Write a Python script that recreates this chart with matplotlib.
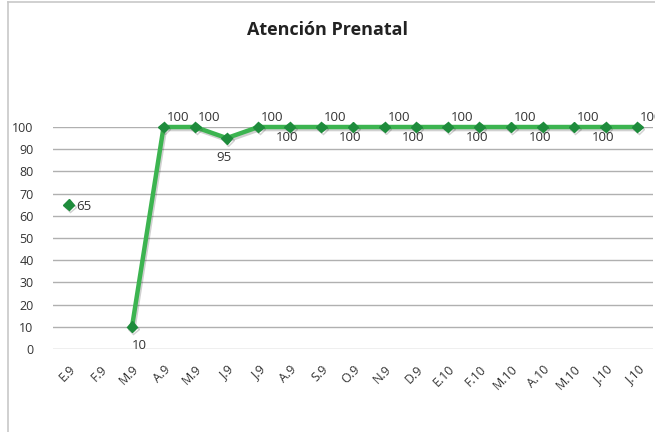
import matplotlib
matplotlib.use("Agg")
import matplotlib.pyplot as plt
import matplotlib.patheffects as pe
import numpy as np

months = ["E.9", "F.9", "M.9", "A.9", "M.9", "J.9", "J.9", "A.9", "S.9", "O.9",
          "N.9", "D.9", "E.10", "F.10", "M.10", "A.10", "M.10", "J.10", "J.10"]
values = [65, np.nan, 10, 100, 100, 95, 100, 100, 100, 100,
          100, 100, 100, 100, 100, 100, 100, 100, 100]
# label placement per point: a = above right, b = below, r = right
label_pos = ["r", "", "b", "a", "a", "b", "a", "b", "a", "b",
             "a", "b", "a", "b", "a", "b", "a", "b", "a"]

plt.rcParams["font.family"] = ["Open Sans", "DejaVu Sans"]

fig = plt.figure(figsize=(6.55, 4.32), dpi=100)
ax = fig.add_axes([0.081, 0.192, 0.916, 0.514])

x = np.arange(len(months))
shadow = [pe.SimpleLineShadow(offset=(1, -1.5), alpha=0.25, shadow_color="#444444"),
          pe.Normal()]
ax.plot(x, values, color="#3cb450", linewidth=3.2, marker="D", markersize=5.5,
        markerfacecolor="#1e8c3c", markeredgecolor="#1e8c3c",
        path_effects=shadow, zorder=3, clip_on=False)

for i, v in enumerate(values):
    if np.isnan(v):
        continue
    p = label_pos[i]
    if p == "a":
        ax.annotate(str(int(v)), (i, v), xytext=(2, 2), textcoords="offset points",
                    ha="left", va="bottom", fontsize=9.5, color="#333333")
    elif p == "b":
        dy = -3 if v == 100 else -9
        ax.annotate(str(int(v)), (i, v), xytext=(0 if v < 50 else -2, dy),
                    textcoords="offset points",
                    ha="left" if v < 50 else "center", va="top", fontsize=9.5,
                    color="#333333")
    else:
        ax.annotate(str(int(v)), (i, v), xytext=(5, -1), textcoords="offset points",
                    ha="left", va="center", fontsize=9.5, color="#333333")

ax.set_xlim(-0.5, len(months) - 0.5)
ax.set_ylim(0, 100)
ax.set_yticks(range(0, 101, 10))
ax.set_xticks(x)
ax.set_xticklabels(months, rotation=45, ha="right", rotation_mode="anchor", fontsize=9,
                   color="#333333")
ax.tick_params(axis="y", labelsize=9, colors="#333333", length=0, pad=14)
ax.tick_params(axis="x", length=0, pad=10)
ax.grid(axis="y", color="#b0b0b0", linewidth=1)
ax.set_axisbelow(True)
for s in ax.spines.values():
    s.set_visible(False)

fig.text(0.5, 0.93, "Atención Prenatal", ha="center", va="center",
         fontsize=13, fontweight="bold", color="#222222")

# chart area border
fig.add_artist(plt.Line2D([0.012, 0.012], [0.0, 0.995], color="#c8c8c8", linewidth=1.2))
fig.add_artist(plt.Line2D([0.012, 1.0], [0.995, 0.995], color="#c8c8c8", linewidth=1.2))

fig.savefig("out.png", dpi=100)
